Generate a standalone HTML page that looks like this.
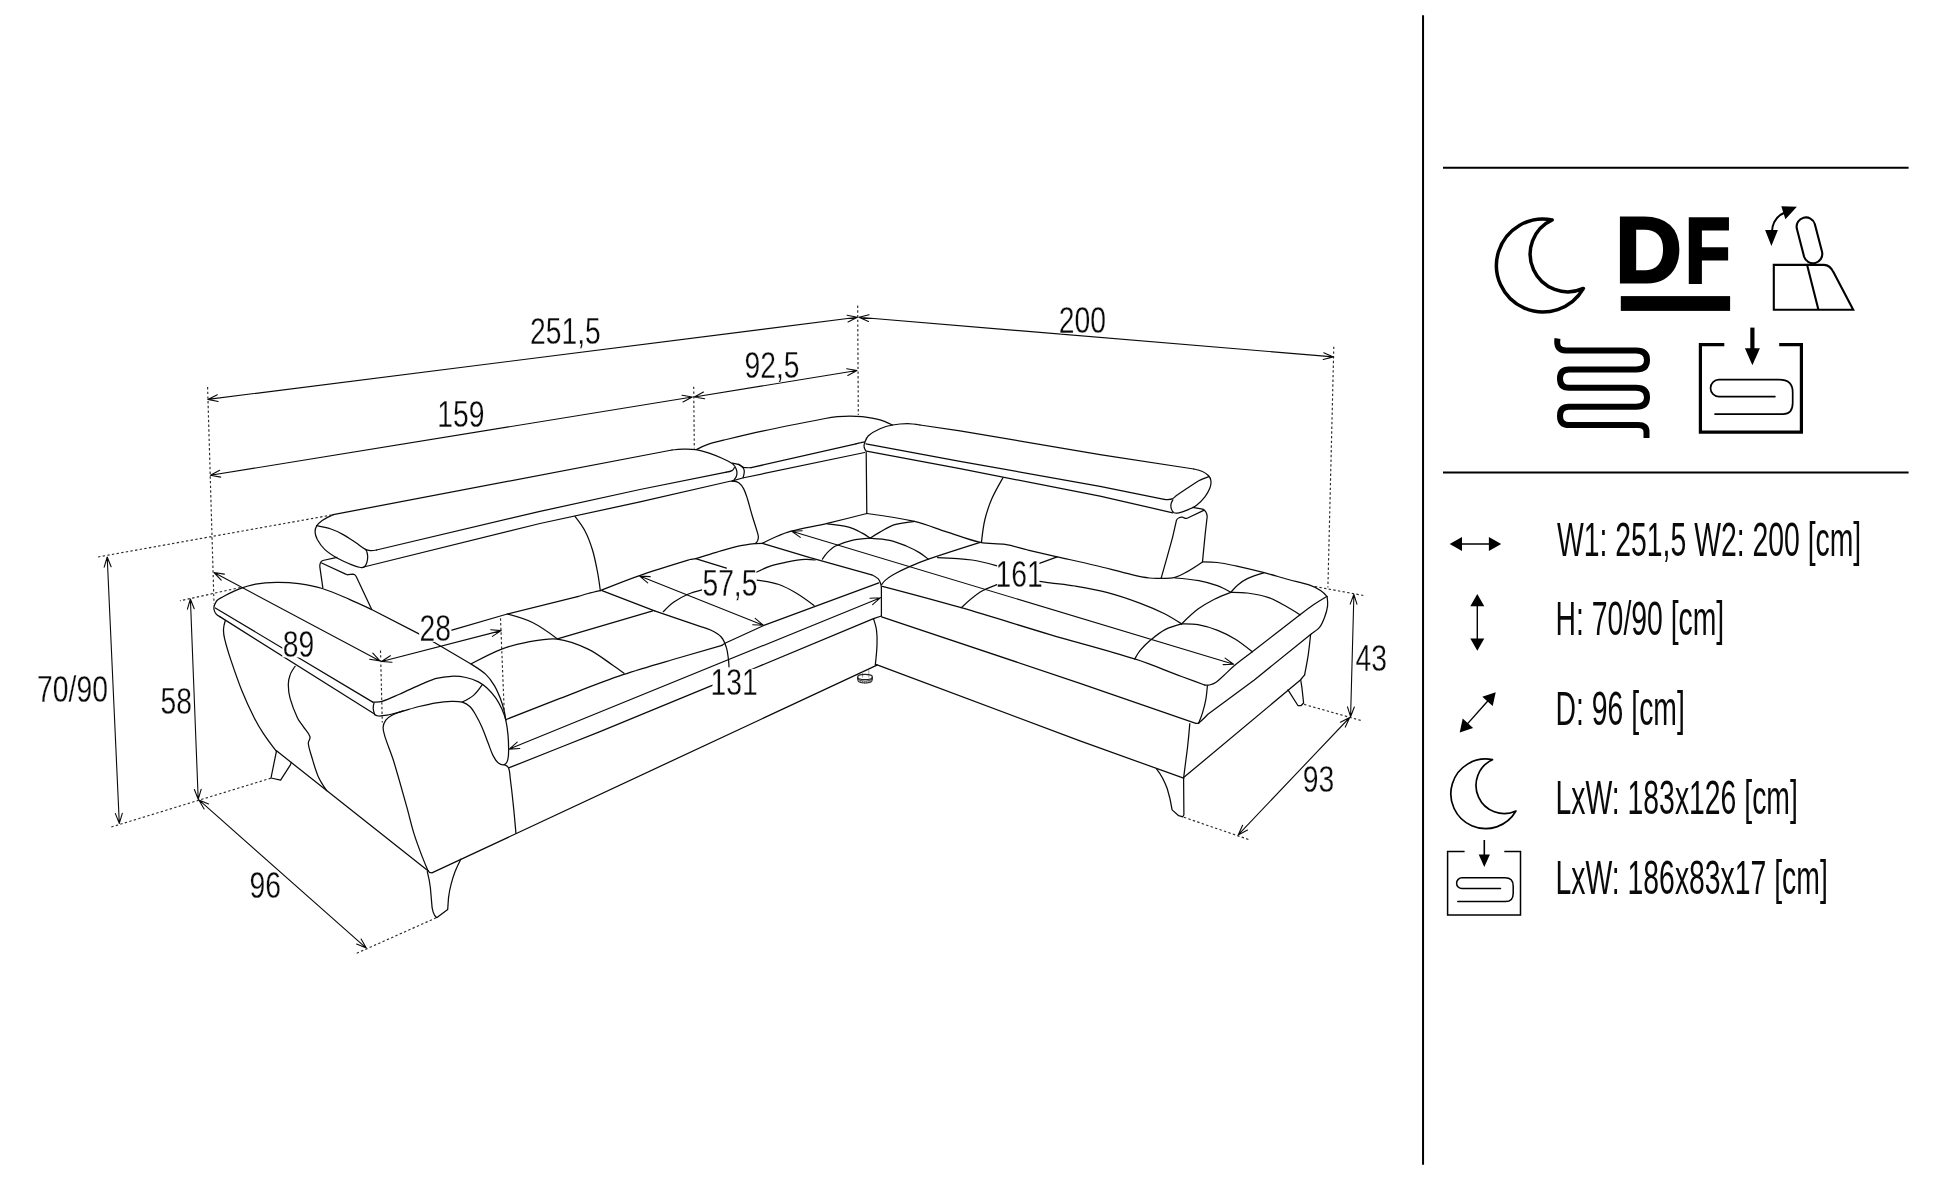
<!DOCTYPE html>
<html><head><meta charset="utf-8"><title>Sofa dimensions</title>
<style>
html,body{margin:0;padding:0;background:#fff}
body{width:1946px;height:1199px;overflow:hidden}
svg{display:block;filter:grayscale(1)}
text{font-family:"Liberation Sans",sans-serif;fill:#0a0a0a}
</style></head><body>
<svg width="1946" height="1199" viewBox="0 0 1946 1199">
<rect width="1946" height="1199" fill="#fff"/>
<g id="sofa" fill="none" stroke="#0a0a0a" stroke-width="1.25" stroke-linecap="round" stroke-linejoin="round">
<path d="M333.3,514.6 L672,450"/>
<path d="M672,450 C674,449.7 676,449.5 678,449.3 C679.7,449.2 681.5,449.1 683.2,449.1 C687.3,449.2 691.5,449 695.6,449.6 C700.2,450.3 704.7,451.7 709.1,453.1 C713.3,454.5 717.4,456.2 721.5,458 C724.9,459.5 728.3,461 731.4,463 C732.9,463.9 734.2,465.2 735.1,466.7 C736,468.2 736.7,469.9 736.9,471.6 C737.1,473.2 736.9,475 736.3,476.5 C735.8,477.9 734.8,479.1 733.8,480.2 C733.3,480.7 732.7,481 732,481.2"/>
<path d="M333.3,514.6 C329.5,516.3 325.7,518.1 322.2,520.4 C320.1,521.9 318,523.7 316.7,525.9 C315.6,527.7 315,530 315.1,532.1 C315.2,534.7 316.1,537.2 317.3,539.5 C319.3,543.1 321.7,546.6 324.7,549.4 C328.3,552.8 332.6,555.5 337,558 C341.8,560.7 346.8,562.8 351.9,564.8 C354.7,565.9 357.5,567 360.5,567.5 C361.7,567.7 363.2,567.7 364.2,567 C365.5,566.1 366.2,564.5 366.7,563 C367.4,561 367.7,558.9 367.7,556.8 C367.7,554.9 367.3,553 366.7,551.2 C366.5,550.5 365.9,549.9 365.4,549.4"/>
<path d="M316.7,525.6 C321.5,526.5 326.3,527.4 330.9,529 C335.2,530.4 339.3,532.4 343.2,534.6 C347.5,537 351.5,539.9 355.6,542.6 C358.9,544.8 361.9,547.5 365.4,549.4 C366.9,550.2 368.7,550.5 370.4,550.6 C372.4,550.7 374.5,550.4 376.5,550"/>
<path d="M376.5,550 L540,511.4 L640,489.5 L726.4,472.2"/>
<path d="M726.4,472.2 C728.4,471.9 730.3,471.6 732,470.6 C733.1,470 733.7,468.8 734.4,467.7"/>
<path d="M361.7,567.5 L540,523.5 L640,501.9 L728.9,481.5 L732.6,480.9"/>
<path d="M337,557.4 L322.8,560.5 Q319.6,562 319.8,566.7 L322.8,587.7"/>
<path d="M321.6,563 L345.7,574.1 Q347,575 348.1,574.7 L353.1,574.1 Q355,574.3 356.2,576.5 L371.6,609.3"/>
<path d="M696.8,449.4 C700.4,447.5 704.1,445.7 707.9,444.4 C713.9,442.4 720.2,441 726.4,439.5 C738.7,436.5 751.1,433.5 763.5,430.9 C784,426.5 804.6,422.5 825.2,418.5 C829.3,417.7 833.4,417.1 837.5,416.7 C841.6,416.3 845.8,416 849.9,416 C854,416 858.1,416.2 862.2,416.7 C868.2,417.5 874.2,418.2 880,419.8 C884.4,421 888.4,423 892.5,425"/>
<path d="M732.3,463.2 C734.5,463.5 736.7,463.8 738.8,464.6 C740.6,465.2 741.9,466.8 743.7,467.3 C746.1,467.9 748.6,467.8 751.1,467.7"/>
<path d="M751.1,467.7 L856,443.8"/>
<path d="M856,443.8 C857.7,443.4 859.3,442.9 861,442.6 C862.2,442.3 863.5,442.2 864.7,442"/>
<path d="M732.6,480.9 L742.5,478 L864.7,452.5"/>
<path d="M738.8,464.2 C740.4,465.3 742,466.4 743.1,467.9 C743.9,468.9 744.3,470.3 744.3,471.6 C744.3,473.7 743.7,475.8 743.1,477.8"/>
<path d="M866.2,452.5 L866.8,513.5"/>
<path d="M865.9,451.2 C865.1,449.8 864.3,448.4 864.1,446.9 C863.9,445.5 864.2,443.9 864.7,442.6 C865.6,440.2 866.5,437.5 868.4,435.8 C871.8,432.8 875.9,430.6 880,428.8 C884,427 888.2,425.8 892.5,425 C897.4,424 902.5,423.5 907.5,423.5 C911.7,423.5 915.8,424.2 920,425"/>
<path d="M920,425 L960,430.8 L1100,454.6 L1193.8,469"/>
<path d="M1193.8,469 C1196.8,469.6 1199.8,470.2 1202.5,471.5 C1204.8,472.5 1206.9,474 1208.6,475.8 C1209.8,477.1 1210.7,478.9 1210.9,480.7 C1211.2,483.2 1210.8,485.8 1209.9,488.1 C1208.7,491.2 1207,494.2 1204.9,496.8 C1202.4,500 1199.6,503 1196.3,505.4 C1193.3,507.6 1189.8,508.9 1186.4,510.4 C1184,511.4 1181.5,512.3 1179,512.8 C1177.4,513.1 1175.6,513.5 1174.1,512.8 C1172.7,512.1 1171.9,510.5 1171.4,509.1 C1170.8,507.6 1170.8,505.8 1171,504.2 C1171.2,502.7 1172,501.3 1172.8,499.9"/>
<path d="M1208.8,476.6 C1205.4,477.8 1202,479 1198.8,480.7 C1194.5,483.1 1190.5,486.1 1186.4,488.8 C1183.1,491 1179.7,493.3 1176.5,495.6 C1175.2,496.5 1174.2,497.9 1172.8,498.6 C1171.3,499.3 1169.6,499.5 1167.9,499.6 C1166.7,499.7 1165.4,499.5 1164.2,499.3"/>
<path d="M865.9,443.8 L960,461.4 L1100,486.3 L1164.2,499.3"/>
<path d="M866.5,451.2 L960,468.6 L1100,496.2 L1172.8,512.8"/>
<path d="M1192.6,507.3 L1202.5,509.1 Q1206.5,510.5 1207.2,516.5 L1205.3,533 L1202.5,561.6"/>
<path d="M1203.7,510.4 L1187.7,518 Q1186.3,518.6 1185.2,518.4 L1182.7,517.2 Q1180.5,517 1179,517.8 Q1177.2,518.6 1176.5,520.2 L1172.5,537.6 L1166.9,557.9 L1161.1,578.3"/>
<path d="M575,516.5 C578.6,521.1 582.3,525.8 585,531 C588.2,537 590.5,543.5 592.5,550 C594.7,557.2 596.1,564.6 597.5,572 C598.7,578.1 599.5,584.3 600.3,590.5"/>
<path d="M732.6,481.2 C734.8,481.3 737.1,481.5 738.8,482.7 C741,484.2 742.5,486.6 743.7,488.9 C745.4,492 746.3,495.4 747.4,498.8 C749.2,504.5 750.6,510.3 752.3,516 C753.9,521.4 755.7,526.7 757.3,532.1 C757.7,533.6 758.3,535.1 758.4,536.7 C758.4,538.1 758.1,539.5 757.6,540.7 C757.1,541.8 756.3,542.6 755.4,543.5"/>
<path d="M451.9,630.2 L507.3,614 L577.5,596.7"/>
<path d="M577.5,596.7 C581,595.6 584.5,594.5 588.1,593.5 C592.1,592.4 596.2,591.5 600.3,590.6"/>
<path d="M600.3,590.6 C613.1,585.5 625.8,580.3 638.8,575.8 C655.7,569.9 672.9,564.7 690,559.5 C691.8,559 693.8,559.1 695.6,558.6 C704.1,556.2 712.4,553.4 720.9,550.9 C727,549.1 733.2,547.2 739.4,545.9 C744.5,544.8 749.6,544.2 754.8,543.6 L762.4,543.3"/>
<path d="M1003,477.7 C999,484.7 994.9,491.7 991.7,499.1 C988.9,505.7 986.6,512.5 984.9,519.5 C983.1,526.9 982.3,534.5 981.5,542.1"/>
<path d="M866.8,513.5 C882.8,515.6 898.7,517.8 914.4,521.4 C925.6,524 936.3,528.6 947.3,532.1 C958.2,535.6 969,540 980.2,542.4 C988.4,544.1 996.9,543.1 1005.2,544.4 C1012.9,545.6 1020.3,548.2 1027.8,550 C1037.6,552.3 1047.4,554.6 1057.2,556.8 C1070,559.7 1082.9,562.4 1095.7,565.5 C1107.8,568.4 1119.7,571.8 1131.8,574.6 C1137.6,576 1143.5,577.3 1149.4,578 C1153.3,578.5 1157.2,578.4 1161.1,578.3"/>
<path d="M1161.1,578.3 C1165.5,578.5 1169.9,578.7 1174.1,577.7 C1178.5,576.6 1182.5,574.3 1186.4,572.1 C1192,569 1197.2,565.5 1202.5,561.9"/>
<path d="M762.4,543.3 C766.9,541 771.4,538.8 776,536.8 C780.9,534.7 785.9,532.6 791.1,531.2 C803,528.1 815.3,526.1 827.3,523.3 C840.5,520.2 853.7,516.9 866.8,513.5"/>
<path d="M507.3,614 C515.9,616.3 524.6,618.6 532.5,622.5 C541.4,626.9 549.5,632.9 557.5,638.9"/>
<path d="M557.5,638.9 L652.8,610.8"/>
<path d="M471.6,663.6 C481.5,658.4 491.3,653.1 501.7,649.1 C509.7,646 518,643.8 526.4,642.3 C536.6,640.5 547,638 557.3,639.1 C568,640.3 578.3,644.5 588.1,649.1 C597,653.3 604.6,659.7 612.8,665.2 C616.6,667.8 620.3,670.5 624,673.2"/>
<path d="M506.2,719.5 C524.1,712.4 542,705.3 560,698.4 C580.9,690.4 601.8,681.9 623,674.7 C641.8,668.3 661,663.1 680,657.5 C694,653.3 708,649.3 722,645.3"/>
<path d="M602,590.7 L654.6,610.8"/>
<path d="M654.6,610.8 C669.7,616 684.9,621.1 700,626.3 C703.5,627.5 707.3,628.3 710.6,630 C714.4,631.9 718.4,633.8 721.2,637 C723.8,639.9 725.2,643.9 726.4,647.6 C727.7,651.5 727.9,655.7 728.5,659.8 C728.8,662.1 728.9,664.5 729,666.8"/>
<path d="M663.3,611.7 C666.6,608.2 670,604.8 673.9,602 C678.3,598.9 683,596.3 687.9,594.2 C692.4,592.2 697.1,591 701.9,589.8"/>
<path d="M695.6,558.6 L726.4,568.1"/>
<path d="M756.2,572.3 C760.8,570 765.4,567.7 770.2,566.1 C775.9,564.2 781.8,563 787.7,561.8 C793.4,560.7 799.2,559.7 805,559.3 C808.3,559.1 811.7,559.5 815,560"/>
<path d="M757,580.1 C764.5,581.1 771.9,582.1 779,584.5 C785.2,586.6 790.9,589.9 796.5,593.3 C802.6,597 808.3,601.2 814,605.5"/>
<path d="M722,645.3 L725.5,643 L763.2,625.7 L878.8,582.8"/>
<path d="M762.4,543.3 L810,557.7 L871.7,574.8"/>
<path d="M871.7,574.8 C874.1,575.9 876.5,577.1 878.3,578.9 C879.6,580.2 880.1,582.2 880.7,583.9 C881.1,585.2 881.3,586.6 881.4,588"/>
<path d="M881.4,588 L881.4,616"/>
<path d="M881.4,616 L873.5,618.7"/>
<path d="M873.5,618.7 C874.7,622.4 876,626.1 876.5,630 C877.2,635 877.2,640 877,645 C876.8,651.7 876,658.4 875.3,665.1"/>
<path d="M509.3,767.7 L560,747.5 L600,731.6 L711,685.8 L753.8,668.5 L873.5,618.7"/>
<path d="M428,870.7 L429.5,872.4 L431.9,872.9 L877,665.1"/>
<path d="M214.2,605.8 C214.9,603.9 215.6,602 217,600.5 C218.4,599 220.4,598.2 222.2,597.2 C227.1,594.6 231.9,591.8 237,589.8 C243,587.5 249.2,585.4 255.6,584.2 C262.5,582.9 269.5,582.4 276.5,582.3 C283.9,582.2 291.4,582.6 298.8,583.6 C306.7,584.7 314.6,586.1 322.2,588.5 C331.5,591.4 340.4,595.5 349.4,599.3 C356.9,602.5 364.2,606 371.6,609.5"/>
<path d="M371.6,609.5 L418.5,633.6 L434,642.3 L471,664"/>
<path d="M471,664 C476.2,667.2 481.4,670.3 485.8,674.4 C489.3,677.6 492,681.6 494.4,685.6 C496.9,689.8 498.8,694.5 500.6,699.1 C502.1,703.1 503.3,707.3 504.3,711.5 C505,714.3 505.4,717.2 505.8,720.1"/>
<path d="M214.2,605.8 C214,607 213.7,608.3 214,609.5 C214.3,611 215,612.6 216,613.8 C217,615 218.4,615.8 219.8,616.6"/>
<path d="M215.3,608 L372.8,702.1"/>
<path d="M219.8,616.6 L374.1,713.8"/>
<path d="M374,702.8 C373.5,704.7 373.1,706.6 373.2,708.5 C373.3,710.6 374,712.6 374.7,714.6"/>
<path d="M372.8,702 C376,702.1 379.1,702.3 382.1,701.4 C388.1,699.6 393.7,696.7 399.4,694.2 C407.7,690.6 415.8,686.6 424.1,683.1 C428.1,681.4 432.1,679.5 436.4,678.4 C441.2,677.2 446.2,676.5 451.2,676.3 C456.1,676.1 461.2,676.5 466,677.5 C470.3,678.4 474.5,679.9 478.4,681.9 C481.5,683.5 484.4,685.6 487,688 C490.2,691 493.2,694.3 495.7,697.9 C498.2,701.4 500.1,705.1 501.9,709 C503.5,712.6 504.9,716.3 505.8,720.1 C506.9,725 507.5,729.9 508,734.9 C508.4,739.4 508.6,744 508.6,748.5 C508.6,752.2 508.8,756 507.8,759.6 C507.3,761.6 506.2,764 504.3,764.6 C502.2,765.3 499.8,764 498.1,762.7 C495.9,761 494.5,758.4 493.2,755.9 C491.2,752 489.9,747.7 488.3,743.6 C486.2,738.2 484.4,732.8 482.1,727.5 C480.3,723.3 478.2,719.2 475.9,715.2 C474.1,712.1 472.4,708.9 469.8,706.5 C467.7,704.5 465.1,703 462.3,702.2 C458.7,701.2 454.9,701.3 451.2,701.4 C446.2,701.5 441.3,702 436.4,702.8 C430.6,703.7 424.8,705.1 419.1,706.5 C412.5,708.2 406,710.3 399.4,712.1 C395.3,713.2 391.2,714.4 387,715.2 C384.2,715.7 381.3,716.1 378.4,716 C377.1,715.9 375.9,715.3 374.7,714.6"/>
<path d="M482.1,684.9 C479.5,688.7 476.9,692.4 473.5,695.4 C470.2,698.2 466.3,700.1 462.3,702"/>
<path d="M403,710.9 C399.2,712.1 395.5,713.3 392,715.2 C389.7,716.4 387.3,718 385.8,720.1 C384.3,722.2 383.2,724.9 383.1,727.5 C383,730.9 384.2,734.2 385.2,737.4 C387.6,745 390.9,752.4 393.3,760 C398.1,775.5 402.3,791.1 406.7,806.7 C409.2,815.5 411.1,824.4 413.8,833.1 C416.2,840.9 419.1,848.5 422,856.1 C423.9,861 425.9,865.9 428,870.7"/>
<path d="M504.3,764.6 C506,765.4 507.8,766.1 508.5,767.7 C509.9,770.9 509.8,774.5 510.2,778 C511.4,787 512.4,796 513.3,805 C514.3,814.3 515.1,823.6 515.9,832.9"/>
<path d="M225.3,620.5 C224.4,623.4 223.6,626.3 223.5,629.3 C223.4,632.6 223.9,635.9 224.7,639.1 C226.4,646.2 228.6,653.2 230.9,660.1 C234.4,670.5 237.9,680.9 242,691 C245.7,700.2 249.9,709.2 254.3,718 C257,723.3 260,728.4 263.3,733.3 C267.5,739.6 272.1,745.7 276.7,751.7"/>
<path d="M276.5,750.8 L428,870.7"/>
<path d="M295.1,666.3 C293.2,669 291.2,671.8 290.1,674.9 C288.9,678 288.3,681.4 288.3,684.8 C288.3,689.4 288.9,694 290.1,698.4 C292,705.1 294.5,711.7 297.5,718 C299,721.2 301.4,723.8 303.3,726.7 C305.5,730 308.8,732.9 310,736.7 C310.7,738.9 308.1,741 308.3,743.3 C308.7,747.9 310.4,752.3 311.7,756.7 C313.7,763.4 315.5,770.3 318.3,776.7 C320.5,781.7 323.6,786.2 326.7,790.7"/>
<path d="M276.5,750.8 L271,778 L280.6,780.1 L290.4,764.8 L291.3,762.4"/>
<path d="M427.3,871.6 Q429.5,880 430.4,888 L432.1,907.7 Q433,913 434.5,915.1 Q435.8,917.3 437,917.6 L447.7,909.4 L448.5,897.9 Q449.5,890 451,884.7 Q453,877 455.1,871.6 Q457.5,865.5 460.8,859.2"/>
<path d="M827.3,523.8 C834.5,524.5 841.7,525.3 848.7,527.1 C853.3,528.3 857.6,530.7 861.8,532.9 C864.7,534.4 867.3,536.3 870,538.2"/>
<path d="M914.4,521.4 C907.7,522.1 901.1,522.7 894.7,524.7 C889.4,526.3 884.7,529.5 879.9,532.1 C876.5,534 873.2,536.1 870,538.2"/>
<path d="M870,538.2 C863.9,538.6 857.9,539 852,540.3 C846.3,541.6 840.7,543.4 835.5,546 C832.4,547.6 829.8,550.1 827.3,552.6 C825.4,554.5 823.9,556.9 822.4,559.2"/>
<path d="M870,538.2 C876.7,538.6 883.3,538.9 889.8,540.3 C895.5,541.5 900.9,543.8 906.2,546 C910.7,547.9 915.2,550.1 919.4,552.6 C922.6,554.5 925.5,556.9 928.4,559.2"/>
<path d="M980.2,542.4 C962.9,547.8 945.6,553.3 928.4,559.2 C921.4,561.6 914.6,564.4 907.9,567.4 C902.9,569.6 897.9,572.1 893.1,574.8 C890.2,576.5 887.4,578.4 884.9,580.6 C883.6,581.7 882.6,583.2 881.6,584.7"/>
<path d="M882.4,586.3 C908.8,593.2 935.1,600.2 961.3,607.7 C991,616.3 1020.4,625.8 1050,634.6 C1078.4,643 1107.2,650.2 1135.5,659.2 C1151.1,664.2 1166.2,670.8 1181.6,676.5 C1189.3,679.4 1196.9,682.2 1204.6,685"/>
<path d="M881.6,616.8 L1080,683.3 L1195.1,723.1 Q1197,723.8 1198.7,723.1"/>
<path d="M876.5,664.6 L1080,740.8 L1183.6,778.2"/>
<path d="M1202.5,561.9 C1207.4,561.9 1212.4,561.9 1217.3,562.5 C1223.5,563.2 1229.7,564.6 1235.8,565.9 C1245.3,568 1254.8,570.3 1264.2,572.7 C1272.3,574.8 1280.3,577.3 1288.4,579.5 C1295.5,581.5 1302.8,582.8 1309.8,585.2 C1313.9,586.6 1317.7,588.6 1321.3,591 C1323.6,592.5 1325.3,594.6 1327.1,596.7"/>
<path d="M1327.1,596.7 C1327.5,599.7 1328,602.8 1327.6,605.8 C1327.1,609.7 1326,613.6 1324.6,617.3 C1323.3,620.8 1322,624.3 1319.7,627.2 C1317.5,629.9 1314.5,631.8 1311.5,633.7"/>
<path d="M1326.3,596.7 C1321.8,599.4 1317.4,602.1 1313.1,605 C1308.6,608.1 1304.3,611.5 1300,614.8 C1284.1,627.1 1268.2,639.5 1252.3,651.8 C1246.3,656.5 1240.1,660.9 1234.2,665.8 C1230.2,669.2 1226.6,673 1222.7,676.5 C1220.5,678.5 1218.5,680.6 1216.1,682.2 C1214.1,683.5 1211.8,684.4 1209.5,685 C1207.9,685.4 1206.3,685.2 1204.6,685"/>
<path d="M1311.5,633.7 L1254.3,680 L1207.9,714.3 Q1202,720.5 1198.7,723.1"/>
<path d="M1207.4,685.8 C1207,690.5 1206.6,695.1 1205.8,699.7 C1205,704.2 1203.8,708.6 1202.5,712.9 C1201.4,716.4 1200.1,719.7 1198.7,723.1"/>
<path d="M1189.8,723.6 C1189.2,731 1188.5,738.4 1187.7,745.8 C1187,752.4 1186,758.9 1185.2,765.5 C1184.7,769.7 1184.1,774 1183.6,778.2"/>
<path d="M1310.6,634.6 C1309.9,641.4 1309.2,648.3 1308.2,655.1 C1307.2,661.7 1305.9,668.3 1304.6,674.8"/>
<path d="M1304.6,674.8 L1300.4,680 L1183.6,777.6"/>
<path d="M1156.5,768.8 Q1163,777 1167.2,788.5 Q1170.5,799 1172.1,809.9 L1178.7,815.7 L1182.8,816.8 L1183.9,814.8 L1183.6,778.2"/>
<path d="M1288,689.9 L1297.9,705.5 L1301.2,705.5 L1303.6,703 L1302,688.2 L1300.8,680.5"/>
<path d="M1175.3,578 C1183.2,578.6 1191,579.3 1198.8,580.7 C1205.1,581.9 1211.3,583.5 1217.3,585.7 C1222,587.4 1226.5,589.9 1230.9,592.3"/>
<path d="M1263.8,572.9 C1258.2,574.5 1252.6,576.1 1247.3,578.6 C1243.7,580.3 1240.5,582.7 1237.5,585.2 C1235,587.3 1233,589.8 1230.9,592.3"/>
<path d="M1230.9,592.3 C1236.4,592.3 1241.9,592.2 1247.3,593 C1254.5,594 1261.8,595.3 1268.7,597.6 C1274.5,599.6 1279.8,602.8 1285.2,605.8 C1290.3,608.6 1295.1,611.7 1300,614.8"/>
<path d="M1230.9,592.3 C1225.3,594.4 1219.7,596.5 1214.4,599.2 C1208.7,602.1 1203.1,605.3 1198,609.1 C1192.1,613.5 1186.9,618.7 1181.6,623.9"/>
<path d="M1181.6,623.9 C1187.1,623.8 1192.6,623.7 1198,624.7 C1204.7,625.9 1211.3,627.9 1217.7,630.4 C1224,632.9 1230.1,635.9 1235.8,639.5 C1241.6,643.1 1247,647.5 1252.3,651.8"/>
<path d="M1181.6,623.9 C1175.9,625.4 1170.3,626.9 1165.1,629.6 C1159.7,632.4 1155,636.4 1150.3,640.3 C1146.7,643.3 1143.4,646.6 1140.4,650.2 C1138.1,652.9 1136.4,656.1 1134.7,659.2"/>
<path d="M1181.6,623.9 C1176.2,620.4 1170.8,616.9 1165.1,614 C1157.1,610 1148.8,606.4 1140.4,603.3 C1129.6,599.3 1118.7,595.5 1107.6,592.6 C1096.8,589.8 1085.7,587.9 1074.7,586 C1066.5,584.6 1058.2,583.9 1050,582.8 C1046.5,582.3 1042.9,581.9 1039.4,581.4"/>
<path d="M937.5,557.6 C949,558 960.6,558.4 972,560 C980.4,561.2 988.5,563.5 996.7,565.8"/>
<path d="M996.7,584.7 C991,586.8 985.3,588.8 980.2,592.1 C973.4,596.6 967.3,602.1 961.3,607.7"/>
<path d="M1039.4,563.3 L1057.2,556.8"/>
</g>
<g fill="none" stroke="#222" stroke-linecap="round"><path stroke-width="0.7" stroke="#777" d="M862.6,672 V677.2 M868.8,670.2 V677.2"/><path stroke-width="1.2" d="M857.6,676.9 A7.4,2.6 0 0 1 872.4,676.9 A7.4,2.6 0 0 1 857.6,676.9 Z"/><path stroke-width="1.2" d="M857.8,677.5 Q857.2,679.5 858.2,681 A7,2.6 0 0 0 871.8,681 Q872.8,679.5 872.2,677.5"/><path stroke-width="0.9" d="M858.4,679.6 A7,2.3 0 0 0 871.6,679.6"/><path stroke-width="0.8" stroke="#444" d="M860.3,681 V682.4 M862.4,681.6 V683 M864.6,681.9 V683.3 M866.8,681.8 V683.2 M869,681.4 V682.8 M870.8,680.8 V682"/></g>
<g id="dims" fill="none" stroke="#0a0a0a" stroke-width="1.1" stroke-linecap="round" stroke-linejoin="round">
<path stroke="#2a2a2a" stroke-width="1.15" stroke-dasharray="2.4 2.3" stroke-linecap="butt" d="M207.6,387 L214,603.5 M693.7,386.7 L694.3,448.6 M857.7,305.6 L858.3,415 M1333.8,346.7 L1327.9,587.5 M331.7,515 L97.8,557 M270.9,778.2 L109.4,827.6 M240.4,587.5 L179.9,600.8 M436.2,917.8 L356.4,953.4 M380.5,650.5 L382.3,722.6 M500.5,618.3 L504.2,710.9 M1314.8,586.5 L1365.7,595.9 M1304.1,704.4 L1362.4,720.9 M1183.9,817.3 L1248.6,839.5"/>
<path d="M207.9,399.4 L857.4,317.3 M217.3,394.8 L207.9,399.4 L218.2,401.5 M848,321.9 L857.4,317.3 L847.1,315.2 M858.9,317.3 L1333.4,356.9 M869.1,314.7 L858.9,317.3 L868.5,321.5 M1323.2,359.5 L1333.4,356.9 L1323.8,352.7 M210.4,475.3 L692.3,397 M219.7,470.3 L210.4,475.3 L220.7,477.1 M683,402 L692.3,397 L682,395.2 M694.3,397 L857,370.5 M703.5,392 L694.3,397 L704.6,398.8 M847.8,375.5 L857,370.5 L846.7,368.7 M107.2,557 L119.3,823.4 M111.1,566.8 L107.2,557 L104.2,567.1 M115.4,813.6 L119.3,823.4 L122.3,813.3 M190.4,599 L198.2,799.3 M194.2,608.8 L190.4,599 L187.4,609.1 M194.4,789.5 L198.2,799.3 L201.2,789.2 M198.9,799.9 L366.3,948.1 M208.6,803.9 L198.9,799.9 L204.1,809 M356.6,944.1 L366.3,948.1 L361.1,939 M214,572.5 L380,660.9 M224.4,574.1 L214,572.5 L221.2,580.2 M369.6,659.3 L380,660.9 L372.8,653.2 M381.5,661.5 L501.2,630.6 M390.3,655.7 L381.5,661.5 L392,662.3 M492.4,636.4 L501.2,630.6 L490.7,629.8 M639.7,576.1 L763.2,625.2 M650.2,576.6 L639.7,576.1 L647.7,582.9 M752.7,624.7 L763.2,625.2 L755.2,618.4 M509.3,749.1 L880.5,597.7 M517.2,742.2 L509.3,749.1 L519.8,748.5 M872.6,604.6 L880.5,597.7 L870,598.3 M791.8,531.2 L1233.6,664.2 M802.2,530.8 L791.8,531.2 L800.3,537.4 M1223.1,664.6 L1233.6,664.2 L1225.1,658.1 M1353.9,594.3 L1350.6,716.8 M1357,604.3 L1353.9,594.3 L1350.2,604.1 M1347.5,706.8 L1350.6,716.8 L1354.3,707 M1349.7,717.5 L1238.2,834.9 M1345.3,727.1 L1349.7,717.5 L1340.4,722.3 M1242.6,825.3 L1238.2,834.9 L1247.5,830.1"/>
</g>
<g id="panel" fill="none" stroke="#000">
<path stroke-width="2" d="M1423.05,15.2 V1164.7 M1443,167.75 H1908.6 M1443,472.5 H1908.6"/>
<path stroke-width="3.5" stroke-linejoin="round" stroke-linecap="round" d="M1552.2,219.9 A46.5,46.5 0 1 0 1583.4,288.4 A36.9,36.9 0 0 1 1552.2,219.9 Z"/>
<path stroke-width="1.7" stroke-linejoin="round" stroke-linecap="round" d="M1492.5,759.7 A34.8,34.8 0 1 0 1515.9,811 A27.7,27.7 0 0 1 1492.5,759.7 Z"/>
<text y="282.3" font-weight="bold" font-size="93" stroke="#000" stroke-width="3" stroke-linejoin="miter" style="fill:#000"><tspan x="1615.3" textLength="66.5" lengthAdjust="spacingAndGlyphs">D</tspan><tspan x="1685.1" textLength="45.5" lengthAdjust="spacingAndGlyphs">F</tspan></text>
<rect x="1620.8" y="296.1" width="109.3" height="14.8" fill="#000" stroke="none"/>
<path stroke-width="2.1" stroke-linejoin="miter" d="M1773.8,264.85 V309.7 H1853.2 L1833.4,272.1 Q1830,265 1824,264.85 Z M1806.8,263.8 L1818.3,309.2"/>
<path stroke-width="2.1" d="M1796.8,228.6 L1804.1,256.7 A9.3,9.3 0 0 0 1822.1,252.1 L1814.8,224.0 A9.3,9.3 0 0 0 1796.8,228.6 Z"/>
<path stroke-width="1.9" d="M1771.9,232 Q1772.5,217.5 1785,212.5"/>
<path stroke="none" fill="#000" d="M1765.1,229.9 L1777.9,229.9 L1771.4,246.1 Z M1781.3,206.3 L1796.9,206.8 L1785.4,219.2 Z"/>
<path stroke-width="6" stroke-linejoin="round" d="M1557.5,338.5 Q1555.5,350.5 1566,350.5 H1636 Q1647,350.5 1647,360 Q1647,369.5 1636,369.5 H1569 Q1560,369.5 1560,378.5 Q1560,387.8 1569,387.8 H1636 Q1647,387.8 1647,397.3 Q1647,406.8 1636,406.8 H1569 Q1560,406.8 1560,416 Q1560,425.1 1569,425.1 H1638 Q1646.5,425.1 1646.5,432 V438"/>
<path stroke-width="3.2" stroke-linejoin="miter" d="M1724.3,344.7 H1700.4 V432.1 H1801.4 V344.7 H1779.2"/><path stroke-width="4.2" d="M1752.4,327.6 V349.3"/><path stroke="none" fill="#000" d="M1744.9,348.3 H1759.9 L1752.4,365.3 Z"/><path stroke-width="1.7" stroke-linecap="round" d="M1774.9,396.6 H1719 A8.45,8.45 0 0 1 1719,379.7 H1779 Q1792.7,379.7 1792.7,392 V403 Q1792.7,414.1 1783,414.1 H1715"/>
<path stroke-width="1.5" stroke-linejoin="miter" d="M1464.6,851.6 H1447.6 V914.9 H1520.5 V851.6 H1504.3"/><path stroke-width="1.6" d="M1484.3,840 V855.6"/><path stroke="none" fill="#000" d="M1478.7,854.6 H1489.9 L1484.3,867 Z"/><path stroke-width="1.5" stroke-linecap="round" d="M1500.5,888.6 H1462 A5.4,5.4 0 0 1 1462,877.8 H1505 Q1513.2,877.8 1513.2,886 V893.5 Q1513.2,901.6 1505.5,901.6 H1457.8"/>
<path stroke-width="1.4" d="M1459.5,544 L1491.4,544"/><path stroke="none" fill="#000" d="M1449.7,544 L1462,551 L1462,537 Z"/><path stroke="none" fill="#000" d="M1501.2,544 L1488.9,551 L1488.9,537 Z"/>
<path stroke-width="1.4" d="M1477.3,603.8 L1477.3,641"/><path stroke="none" fill="#000" d="M1477.3,594 L1470.3,606.3 L1484.3,606.3 Z"/><path stroke="none" fill="#000" d="M1477.3,650.8 L1470.3,638.5 L1484.3,638.5 Z"/>
<path stroke-width="1.4" d="M1466.3,725.1 L1489.1,699.5"/><path stroke="none" fill="#000" d="M1459.7,732.4 L1473.1,727.9 L1462.7,718.6 Z"/><path stroke="none" fill="#000" d="M1495.7,692.2 L1492.7,706 L1482.3,696.7 Z"/>
</g>
<text transform="translate(1557 555.7) scale(0.58 1)" font-size="48.9">W1: 251,5 W2: 200 [cm]</text>
<text transform="translate(1555.6 634.6) scale(0.58 1)" font-size="48.9">H: 70/90 [cm]</text>
<text transform="translate(1555.6 724.6) scale(0.58 1)" font-size="48.9">D: 96 [cm]</text>
<text transform="translate(1555.6 813.5) scale(0.58 1)" font-size="48.9">LxW: 183x126 [cm]</text>
<text transform="translate(1555.6 894) scale(0.58 1)" font-size="48.9">LxW: 186x83x17 [cm]</text>
<g id="labels">
<rect x="282.3" y="630.7" width="30.9" height="26.7" fill="#fff"/>
<rect x="419.1" y="615.1" width="31.9" height="26.7" fill="#fff"/>
<rect x="702" y="569.9" width="54.4" height="26.7" fill="#fff"/>
<rect x="712.5" y="668.9" width="42.7" height="26.7" fill="#fff"/>
<rect x="997.5" y="561.5" width="41.9" height="26.7" fill="#fff"/>
<text transform="translate(530 343.8) scale(0.786 1)" font-size="36.0" stroke="#fff" stroke-width="0.3">251,5</text>
<text transform="translate(1058.8 332.5) scale(0.786 1)" font-size="36.0" stroke="#fff" stroke-width="0.3">200</text>
<text transform="translate(437.2 426.5) scale(0.786 1)" font-size="36.0" stroke="#fff" stroke-width="0.3">159</text>
<text transform="translate(744.5 378.2) scale(0.786 1)" font-size="36.0" stroke="#fff" stroke-width="0.3">92,5</text>
<text transform="translate(37.1 701.6) scale(0.786 1)" font-size="36.0" stroke="#fff" stroke-width="0.3">70/90</text>
<text transform="translate(160.4 714.3) scale(0.786 1)" font-size="36.0" stroke="#fff" stroke-width="0.3">58</text>
<text transform="translate(282.7 656.5) scale(0.786 1)" font-size="36.0" stroke="#fff" stroke-width="0.3">89</text>
<text transform="translate(419.4 640.9) scale(0.786 1)" font-size="36.0" stroke="#fff" stroke-width="0.3">28</text>
<text transform="translate(702.4 595.7) scale(0.786 1)" font-size="36.0" stroke="#fff" stroke-width="0.3">57,5</text>
<text transform="translate(710.5 694.7) scale(0.786 1)" font-size="36.0" stroke="#fff" stroke-width="0.3">131</text>
<text transform="translate(995.6 587.3) scale(0.786 1)" font-size="36.0" stroke="#fff" stroke-width="0.3">161</text>
<text transform="translate(1355.5 670.7) scale(0.786 1)" font-size="36.0" stroke="#fff" stroke-width="0.3">43</text>
<text transform="translate(1302.8 792.4) scale(0.786 1)" font-size="36.0" stroke="#fff" stroke-width="0.3">93</text>
<text transform="translate(249.6 897.9) scale(0.786 1)" font-size="36.0" stroke="#fff" stroke-width="0.3">96</text>
</g>
</svg>
</body></html>
